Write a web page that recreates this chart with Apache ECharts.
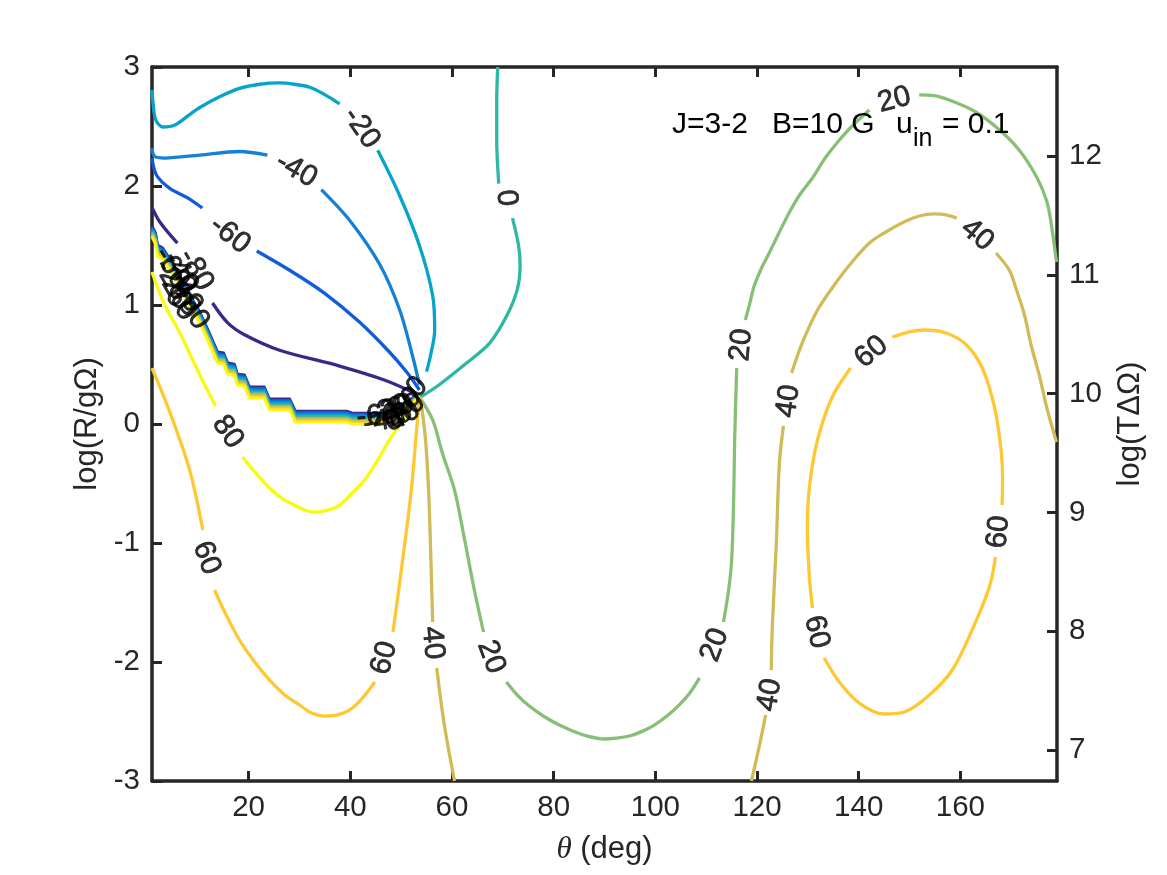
<!DOCTYPE html>
<html>
<head>
<meta charset="utf-8">
<title>log(R/gΩ) contours</title>
<script src="https://cdn.jsdelivr.net/npm/echarts@6/dist/echarts.min.js"></script>
<style>
  html, body { margin: 0; padding: 0; background: #fff; }
  #chart { width: 1167px; height: 875px; }
</style>
</head>
<body>
<div id="chart"></div>
<script>
// tick labels
const xTicks = [20, 40, 60, 80, 100, 120, 140, 160];
const yTicks = [-3, -2, -1, 0, 1, 2, 3];
const y2Ticks = [7, 8, 9, 10, 11, 12];

// contour colours by level
const levels = [-80, -60, -40, -20, 0, 20, 40, 60, 80];
const levelColors = ['#352a87', '#0f5cdd', '#1481d6', '#06a4ca', '#2eb7a4', '#87bf77', '#d1bb59', '#fec832', '#f9fb0e'];

// contour pieces, broken where the inline labels sit
const m80a = [[1,1.82],[2.5,1.70],[6,1.52]];
const m80b = [[12.9,1.017],[15.9,.85],[19.2,.75],[26.1,.62],[37.9,.487],[46.7,.37],[52.6,.26]];
const m60a = [[1,2.235],[1.9,2.09],[4.5,1.98],[8,1.90],[10.9,1.815]];
const m60b = [[21.6,1.454],[28,1.294],[34.9,1.10],[41.8,.857],[47.7,.605],[51.2,.43],[53.6,.286]];
const m40a = [[1,2.32],[1.5,2.25],[3.5,2.235],[10.4,2.26],[18.2,2.29],[23.7,2.26]];
const m40b = [[34.3,1.97],[39.9,1.71],[45.8,1.34],[49.7,.96],[52.2,.58],[53.6,.33]];
const m20a = [[1,2.807],[1.2,2.7],[1.7,2.56],[3.1,2.496],[5.4,2.51],[8.4,2.6],[10.4,2.66],[14.3,2.75],[18.2,2.82],[22.2,2.855],[26.1,2.866],[29,2.855],[32,2.83],[34.9,2.77],[37.9,2.69]];
const m20b = [[45.4,2.30],[49.7,1.92],[53.6,1.50],[56.2,1.08],[56.6,.79],[55.8,.58],[55,.44]];
const z0a = [[69,3],[68.8,2.72],[68.8,2.39],[69.2,2.02]];
const z0b = [[71.9,1.73],[73.1,1.50],[73.4,1.34],[72.9,1.14],[70.9,.92],[67.4,.68],[62.5,.50],[57.5,.33],[53.6,.22]];
const p20a = [[53.6,.227],[56.2,.034],[58.1,-.244],[60.5,-.555],[62.5,-.975],[64.4,-1.395],[66.2,-1.748]];
const p20b = [[70.7,-2.168],[72.9,-2.28],[75.2,-2.37],[78.2,-2.46],[81.1,-2.53],[83.5,-2.575],[86,-2.615],[90,-2.647],[92.3,-2.64],[94.9,-2.622],[97.3,-2.585],[99.8,-2.53],[102.4,-2.45],[104.7,-2.361],[106.7,-2.265],[108.7,-2.134]];
const p20c = [[113.4,-1.664],[114.4,-1.4],[115,-1.15],[115.4,-.639],[115.6,-.134],[116,.471]];
const p20d = [[117.7,.874],[118.5,1.0],[119.5,1.168],[120.9,1.311],[122.4,1.437],[124.4,1.613],[126.4,1.782],[128.5,1.933],[130.9,2.067],[133.4,2.235],[136.2,2.387],[139.1,2.521],[142.1,2.639]];
const p20e = [[151.9,2.765],[154.8,2.76],[157.8,2.723],[162.7,2.63],[167.7,2.471],[171.6,2.3],[175.1,2.067],[177,1.87],[177.8,1.7],[178.9,1.361]];
const p40a = [[53.8,.227],[54.8,-.134],[55.4,-.555],[55.8,-1.059],[56.2,-1.664]];
const p40b = [[57,-2.05],[58.5,-2.529],[60.5,-3]];
const p40c = [[118.9,-3],[120.5,-2.697],[121.7,-2.445]];
const p40d = [[122.8,-2.067],[123,-1.706],[123.8,-1],[124.4,-.328],[125.2,-.017]];
const p40e = [[126.8,.429],[128.9,.681],[131.9,.958],[135.2,1.168],[138.2,1.336],[142.1,1.521],[145.6,1.62],[148.9,1.697],[151.9,1.748],[154.8,1.765],[157.4,1.756],[159.3,1.73]];
const p40f = [[167,1.437],[169.6,1.294],[170.9,1.143],[172.6,.916],[173.9,.664],[175.5,.412],[177.1,.118],[178.9,-.151]];
const p60a = [[1,.47],[4.5,.101],[8.4,-.387],[11,-.891]];
const p60b = [[13.3,-1.395],[15.3,-1.58],[18.2,-1.815],[21.2,-2],[24.1,-2.151],[27.1,-2.277],[30,-2.361],[32.4,-2.429],[34.9,-2.454],[37.5,-2.445],[39.9,-2.403],[42.4,-2.303],[44.8,-2.168]];
const p60c = [[48.4,-1.748],[50.3,-1.143],[52,-.555],[53.2,.034],[53.6,.218]];
const p60d = [[146.6,.731],[150,.775],[152.9,.79],[157.2,.765],[161.2,.664],[164.3,.471],[166.7,.143],[168,-.218],[168.3,-.45],[168.2,-.681]];
const p60e = [[166.9,-1.118],[165.7,-1.37],[162.3,-1.731],[158.4,-2.067],[153.9,-2.277],[149,-2.42],[145,-2.437],[140.1,-2.345],[136.2,-2.168],[133.2,-1.966]];
const p60f = [[130.9,-1.546],[130.3,-1.286],[129.9,-.891],[130.3,-.529],[131.9,-.134],[134.8,.227],[138.4,.471]];
const p80a = [[1,1.277],[3.5,1.0],[6.4,.773],[10.4,.412],[13.5,.151]];
const p80b = [[18.8,-.277],[21.2,-.403],[24.1,-.538],[26.5,-.622],[29,-.681],[31,-.723],[33,-.74],[35.5,-.723],[37.9,-.681],[40.2,-.588],[42.8,-.471],[45.4,-.303],[47.7,-.134],[49.7,-.008],[51.6,.118]];

// staircase where all levels bunch together
const stairX = [1,1.7,2.1,3.1,4.5,7.4,10.4,12.1,13.9,15.1,15.9,17.2,17.8,19.2,20.2,23.1,24.1,28.1,29.2,39.3,40.4,43.2,46.7,49.7,52.6,53.6];
const stairM80 = [1.664,1.605,1.504,1.479,1.387,1.16,.941,.782,.605,.597,.513,.504,.42,.412,.311,.311,.21,.21,.109,.109,.092,.092,.092,.14,.23,.25];
const stairM60 = [1.652,1.593,1.492,1.467,1.375,1.148,.929,.77,.593,.585,.501,.492,.408,.4,.299,.299,.198,.198,.097,.097,.08,.08,.082,.132,.224,.25];
const stairM40 = [1.64,1.581,1.48,1.455,1.363,1.136,.917,.758,.581,.573,.489,.48,.396,.388,.287,.287,.186,.186,.085,.085,.068,.068,.072,.124,.218,.25];
const stairM20 = [1.629,1.57,1.469,1.444,1.352,1.125,.906,.747,.57,.562,.478,.469,.385,.377,.276,.276,.175,.175,.074,.074,.057,.057,.062,.116,.212,.25];
const stairZ0 = [1.617,1.558,1.457,1.432,1.34,1.113,.894,.735,.558,.55,.466,.457,.373,.365,.264,.264,.163,.163,.062,.062,.045,.045,.052,.108,.206,.25];
const stairP20 = [1.605,1.546,1.445,1.42,1.328,1.101,.882,.723,.546,.538,.454,.445,.361,.353,.252,.252,.151,.151,.05,.05,.033,.033,.042,.1,.2,.25];
const stairP40 = [1.593,1.534,1.433,1.408,1.316,1.089,.87,.711,.534,.526,.442,.433,.349,.341,.24,.24,.139,.139,.038,.038,.021,.021,.032,.092,.194,.25];
const stairP60 = [1.582,1.523,1.422,1.397,1.305,1.078,.859,.7,.523,.515,.431,.422,.338,.33,.229,.229,.128,.128,.027,.027,.01,.01,.022,.084,.188,.25];
const stairP80 = [1.57,1.511,1.41,1.385,1.293,1.066,.847,.688,.511,.503,.419,.41,.326,.318,.217,.217,.116,.116,.015,.015,-.002,-.002,.012,.076,.182,.25];

// inline labels: text, x, y, angle
const contourLabels = [
  ['-20',42.2,2.487,-55], ['-40',29.4,2.134,-30], ['-60',16.3,1.588,-38],
  ['0',70.7,1.899,-85],
  ['20',116.9,.664,85], ['20',111.7,-1.857,70], ['20',67.7,-1.958,-70], ['20',147,2.723,15],
  ['40',56.2,-1.84,-85], ['40',122.5,-2.277,80], ['40',126.2,.193,82], ['40',163.3,1.588,-40],
  ['60',11.7,-1.126,-70], ['60',46.7,-1.966,75], ['60',142.5,.605,40], ['60',167.5,-.908,85], ['60',131.7,-1.748,-77],
  ['80',15.9,-.067,-55],
  // bunch on the left
  ['-80',9.6,1.294,-60], ['-60',4.85,1.311,-60], ['-40',6.6,1.277,-60], ['-20',4.85,1.21,-60],
  ['0',7.4,1.168,-60], ['20',5.85,1.1,-60], ['40',8,1.076,-60], ['60',6.6,1.008,-55], ['80',9.2,.933,-55],
  // bunch near the apex
  ['-60',45.4,.067,5], ['-40',46.7,.025,10], ['-20',47.7,.118,20], ['0',48.5,.025,20],
  ['20',49.3,.134,20], ['40',50.5,.067,30], ['60',50.7,.176,35], ['80',51.5,.126,40],
  ['0',53.2,.31,45]
];

const pieces = [
  [-80, m80a], [-80, m80b], [-60, m60a], [-60, m60b], [-40, m40a], [-40, m40b],
  [-20, m20a], [-20, m20b], [0, z0a], [0, z0b],
  [20, p20a], [20, p20b], [20, p20c], [20, p20d], [20, p20e],
  [40, p40a], [40, p40b], [40, p40c], [40, p40d], [40, p40e], [40, p40f],
  [60, p60a], [60, p60b], [60, p60c], [60, p60d], [60, p60e], [60, p60f],
  [80, p80a], [80, p80b]
];
const stairs = [
  [-80, stairM80], [-60, stairM60], [-40, stairM40], [-20, stairM20], [0, stairZ0],
  [20, stairP20], [40, stairP40], [60, stairP60], [80, stairP80]
];

const FONT = '"Liberation Sans", Arial, sans-serif';
const INK = '#262626';
const SIZE = 29.5;
const NAME_SIZE = 31;
const colorOf = lv => levelColors[levels.indexOf(lv)];

const series = [];
pieces.forEach(([lv, pts]) => {
  series.push({
    type: 'line', data: pts, smooth: 0.33, showSymbol: false, silent: true,
    lineStyle: { color: colorOf(lv), width: 3.3 }, z: 2
  });
});
stairs.forEach(([lv, ys]) => {
  series.push({
    type: 'line', data: stairX.map((x, i) => [x, ys[i]]), showSymbol: false, silent: true,
    lineStyle: { color: colorOf(lv), width: 2.8, join: 'round' }, z: 3
  });
});
series.push({
  type: 'scatter', symbolSize: 1, silent: true, z: 5,
  itemStyle: { color: 'transparent' },
  data: contourLabels.map(l => ({
    name: l[0], value: [l[1], l[2]],
    label: { show: true, position: 'inside', formatter: l[0], rotate: l[3],
      color: '#000', textBorderColor: '#000', textBorderWidth: 0.7,
      fontFamily: FONT, fontSize: SIZE, align: 'center', verticalAlign: 'middle' }
  }))
});

const axisLine = { show: true, onZero: false, lineStyle: { color: INK, width: 3.5 } };
const tickOf = vals => ({ show: true, inside: true, length: 10, customValues: vals, lineStyle: { color: INK, width: 3 } });
const labelOf = vals => ({ show: true, customValues: vals, color: INK, fontFamily: FONT, fontSize: SIZE, margin: 12 });

const option = {
  animation: false,
  backgroundColor: '#fff',
  grid: { left: 152, right: 110, top: 67, bottom: 94 },
  xAxis: [
    {
      type: 'value', min: 1, max: 179, position: 'bottom',
      name: '{i|θ} (deg)', nameLocation: 'middle', nameGap: 53,
      nameTextStyle: { color: INK, fontFamily: FONT, fontSize: NAME_SIZE,
        rich: { i: { fontFamily: '"Liberation Serif", serif', fontStyle: 'italic', fontSize: NAME_SIZE, color: INK } } },
      axisLine, axisTick: tickOf(xTicks), axisLabel: labelOf(xTicks), splitLine: { show: false }
    },
    {
      type: 'value', min: 1, max: 179, position: 'top',
      axisLine, axisTick: tickOf(xTicks), axisLabel: { show: false }, splitLine: { show: false }
    }
  ],
  yAxis: [
    {
      type: 'value', min: -3, max: 3, position: 'left',
      name: 'log(R/gΩ)', nameLocation: 'middle', nameGap: 48, nameRotate: 90,
      nameTextStyle: { color: INK, fontFamily: FONT, fontSize: NAME_SIZE },
      axisLine, axisTick: tickOf(yTicks), axisLabel: labelOf(yTicks), splitLine: { show: false }
    },
    {
      type: 'value', min: 6.74, max: 12.75, position: 'right',
      name: 'log(TΔΩ)', nameLocation: 'middle', nameGap: 58, nameRotate: 90,
      nameTextStyle: { color: INK, fontFamily: FONT, fontSize: NAME_SIZE },
      axisLine, axisTick: tickOf(y2Ticks), axisLabel: labelOf(y2Ticks), splitLine: { show: false }
    }
  ],
  graphic: [
    { type: 'text', left: 672, top: 110, z: 10, style: { text: 'J=3-2', fill: '#000', font: '30px ' + FONT } },
    { type: 'text', left: 772, top: 110, z: 10, style: { text: 'B=10 G', fill: '#000', font: '30px ' + FONT } },
    { type: 'text', left: 896, top: 110, z: 10, style: { text: 'u', fill: '#000', font: '30px ' + FONT } },
    { type: 'text', left: 913, top: 127, z: 10, style: { text: 'in', fill: '#000', font: '25px ' + FONT } },
    { type: 'text', left: 942, top: 110, z: 10, style: { text: '= 0.1', fill: '#000', font: '30px ' + FONT } }
  ],
  series
};

const chart = echarts.init(document.getElementById('chart'));
chart.setOption(option);
</script>
</body>
</html>
